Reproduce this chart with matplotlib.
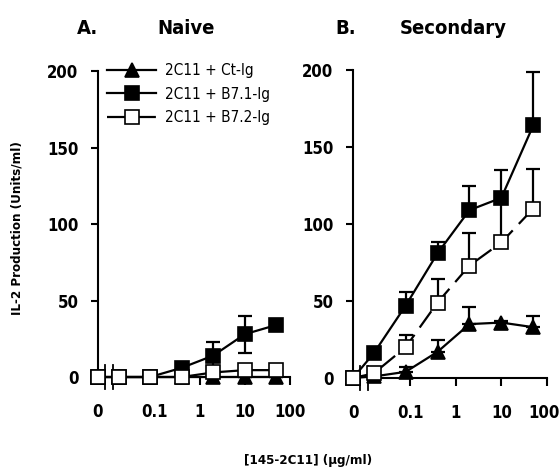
import numpy as np
import matplotlib
matplotlib.use("Agg")
import matplotlib.pyplot as plt
import matplotlib.transforms as mtransforms

# Data
doses = [0, 0.016, 0.08, 0.4, 2, 10, 50]  # ug/ml, 0 = no antibody
series_names = ['2C11 + Ct-Ig', '2C11 + B7.1-Ig', '2C11 + B7.2-Ig']

# A. Naive
naive_ct = [0, 0, 0, 0, 0, 0, 0]
naive_ct_err = [0, 0, 1, 0, 0, 0, 0]
naive_b71 = [0, 0, 0, 6, 14, 28, 34]
naive_b71_err = [0, 0, 0, 0, 9, 12, 0]
naive_b72 = [0, 0, 0, 0, 3, 4.5, 4.5]
naive_b72_err = [0, 0, 0, 0, 0, 0, 0]

# B. Secondary
sec_ct = [0, 1, 4, 17, 35, 36, 33]
sec_ct_err = [0, 0, 3, 8, 11, 1, 7]
sec_b71 = [0, 16, 47, 81, 109, 117, 164]
sec_b71_err = [0, 0, 9, 7, 16, 18, 35]
sec_b72 = [0, 3, 20, 49, 73, 88, 110]
sec_b72_err = [0, 0, 8, 15, 21, 29, 26]

xticklabels = ['0', '0.1', '1', '10', '100']

ZERO_POS = -2.25          # where dose 0 sits on the log axis
BREAK_POS = (-2.1, -1.92)  # axis-break marks

plt.rcParams['font.family'] = ['DejaVu Sans']
plt.rcParams['font.stretch'] = 'condensed'


def xpos(d):
    d = np.asarray(d, dtype=float)
    out = np.full(d.shape, ZERO_POS)
    out[d > 0] = np.log10(d[d > 0])
    return out


def draw_panel(ax, data, both_err, dashed_b72):
    x = xpos(doses)
    styles = [
        dict(marker='^', mfc='black', mec='black', ms=10, ls='-'),
        dict(marker='s', mfc='black', mec='black', ms=9.5, ls='-'),
        dict(marker='s', mfc='white', mec='black', ms=9.5,
             ls=(0, (9, 4)) if dashed_b72 else '-'),
    ]
    handles = []
    for i, ((y, e), st) in enumerate(zip(data, styles)):
        e = np.asarray(e)
        yerr = [e, e] if both_err else [np.zeros_like(e), e]
        ax.errorbar(x, y, yerr=yerr, fmt='none', ecolor='black',
                    elinewidth=1.6, capsize=5, capthick=1.6,
                    clip_on=False, zorder=2 + i)
        h, = ax.plot(x, y, color='black', lw=1.6, mew=1.2, clip_on=False,
                     zorder=3 + i, label=series_names[i], **st)
        handles.append(h)

    ax.set_xlim(ZERO_POS, 2)
    ax.set_ylim(0, 200)
    for s in ['top', 'right']:
        ax.spines[s].set_visible(False)
    ax.spines['left'].set_linewidth(1.5)
    ax.spines['bottom'].set_linewidth(1.5)
    ax.spines['bottom'].set_bounds(BREAK_POS[1], 2)

    ax.set_xticks([ZERO_POS, -1, 0, 1, 2])
    ax.set_xticklabels(xticklabels)
    ax.set_yticks([0, 50, 100, 150, 200])
    ax.tick_params(axis='x', direction='out', length=6, width=1.5, pad=13)
    ax.tick_params(axis='y', direction='out', length=5, width=1.5, pad=9)
    ax.xaxis.get_major_ticks()[0].tick1line.set_visible(False)
    for lab in ax.get_xticklabels() + ax.get_yticklabels():
        lab.set_fontweight('bold')
        lab.set_fontsize(12)

    # axis break marks
    trans = mtransforms.blended_transform_factory(ax.transData, ax.transAxes)
    for bx in BREAK_POS:
        ax.plot([bx, bx], [-0.04, 0.04], color='black', lw=1.3,
                transform=trans, clip_on=False)
    return handles


fig = plt.figure(figsize=(5.59, 4.68), dpi=100)
axA = fig.add_axes([0.1753, 0.1944, 0.3435, 0.6539])
axB = fig.add_axes([0.6315, 0.1923, 0.3470, 0.6581])

draw_panel(axA, [(naive_ct, naive_ct_err), (naive_b71, naive_b71_err),
                 (naive_b72, naive_b72_err)], both_err=True, dashed_b72=False)
hB = draw_panel(axB, [(sec_ct, sec_ct_err), (sec_b71, sec_b71_err),
                      (sec_b72, sec_b72_err)], both_err=False, dashed_b72=True)

# the last tick label of panel B sits at the figure edge: nudge it in a little
last = axB.get_xticklabels()[-1]
last.set_transform(last.get_transform() +
                   mtransforms.ScaledTranslation(-3 / 100, 0, fig.dpi_scale_trans))

axA.legend(handles=hB, loc='upper left', bbox_to_anchor=(0.0, 1.055),
           frameon=False, fontsize=11, handlelength=3.2, handletextpad=0.6,
           labelspacing=0.55, borderaxespad=0.2)

fig.text(0.156, 0.94, 'A.', fontsize=14.5, fontweight='bold', ha='center', va='center')
fig.text(0.333, 0.94, 'Naive', fontsize=14.5, fontweight='bold', ha='center', va='center')
fig.text(0.619, 0.94, 'B.', fontsize=14.5, fontweight='bold', ha='center', va='center')
fig.text(0.81, 0.94, 'Secondary', fontsize=14.5, fontweight='bold', ha='center', va='center')

fig.text(0.03, 0.513, 'IL-2 Production (Units/ml)', rotation=90, fontsize=9.5,
         fontweight='bold', ha='center', va='center')
fig.text(0.551, 0.017, '[145-2C11] (\u03bcg/ml)', fontsize=9.5, fontweight='bold',
         ha='center', va='center')

fig.savefig('out.png', dpi=100)
